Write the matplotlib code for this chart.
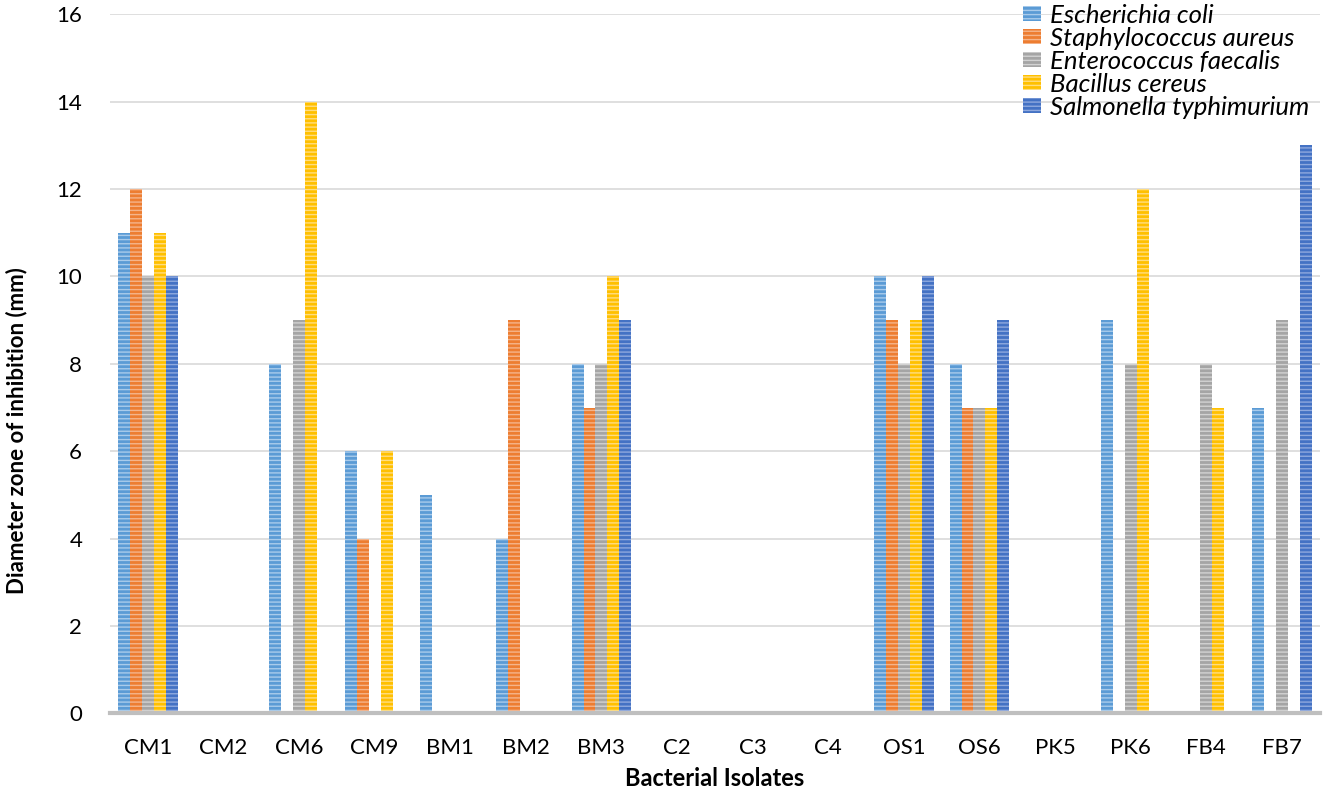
import numpy as np
import matplotlib
matplotlib.use("Agg")
import matplotlib.pyplot as plt
from matplotlib.patches import Patch

isolates = ['CM1', 'CM2', 'CM6', 'CM9', 'BM1', 'BM2', 'BM3', 'C2', 'C3', 'C4',
            'OS1', 'OS6', 'PK5', 'PK6', 'FB4', 'FB7']

e_coli = [11, 0, 8, 6, 5, 4, 8, 0, 0, 0, 10, 8, 0, 9, 0, 7]
s_aureus = [12, 0, 0, 4, 0, 9, 7, 0, 0, 0, 9, 7, 0, 0, 0, 0]
e_faecalis = [10, 0, 9, 0, 0, 0, 8, 0, 0, 0, 8, 7, 0, 8, 8, 9]
b_cereus = [11, 0, 14, 6, 0, 0, 10, 0, 0, 0, 9, 7, 0, 12, 7, 0]
s_typhi = [10, 0, 0, 0, 0, 0, 9, 0, 0, 0, 10, 9, 0, 0, 0, 13]

names = ['Escherichia coli', 'Staphylococcus aureus', 'Enterococcus faecalis',
         'Bacillus cereus', 'Salmonella typhimurium']
series = [e_coli, s_aureus, e_faecalis, b_cereus, s_typhi]
colors = ['#5B9BD5', '#ED7D31', '#A5A5A5', '#FFC000', '#4472C4']
stripes = ['#A9CBEB', '#F5B48A', '#D2D2D2', '#FFDD80', '#8FA9DE']

plt.rcParams['font.family'] = ['Lato', 'DejaVu Sans']
plt.rcParams['hatch.linewidth'] = 1.0

fig = plt.figure(figsize=(13.25, 7.97), dpi=100)
ax = fig.add_axes([0.083, 0.105, 0.913, 0.877])

x = np.arange(len(isolates))
w = 0.158
for i in range(5):
    ax.bar(x + (i - 2) * w, series[i], w, color=colors[i], edgecolor=stripes[i],
           linewidth=0, hatch='----', zorder=3)

ax.set_xlim(-0.5, len(isolates) - 0.5)
ax.set_ylim(0, 16)
ax.set_yticks(range(0, 17, 2))
ax.set_xticks(x)
ax.set_xticklabels(isolates)
ax.tick_params(axis='both', length=0, labelsize=16, colors='black')
ax.tick_params(axis='x', pad=18)
ax.tick_params(axis='y', pad=20)

ax.grid(axis='y', color='#D9D9D9', linewidth=1.2, zorder=0)
for s in ['top', 'right', 'left']:
    ax.spines[s].set_visible(False)
ax.spines['bottom'].set_color('#BFBFBF')
ax.spines['bottom'].set_linewidth(3)
ax.spines['bottom'].set_zorder(4)

ax.set_xlabel('Bacterial Isolates', fontsize=17, fontweight='bold', labelpad=6)
ax.set_ylabel('Diameter zone of inhibition (mm)', fontsize=16, fontweight='bold')
ax.yaxis.set_label_coords(-0.068, 0.405)

handles = [Patch(facecolor=colors[i], edgecolor=stripes[i], linewidth=0, hatch='----')
           for i in range(5)]
leg = ax.legend(handles, names, loc='upper right', bbox_to_anchor=(1.0, 1.03),
                frameon=False, fontsize=18.5, handlelength=0.7, handleheight=0.55,
                handletextpad=0.35, labelspacing=0.0, borderaxespad=0)
for t in leg.get_texts():
    t.set_fontstyle('italic')

fig.savefig('out.png', dpi=100)
